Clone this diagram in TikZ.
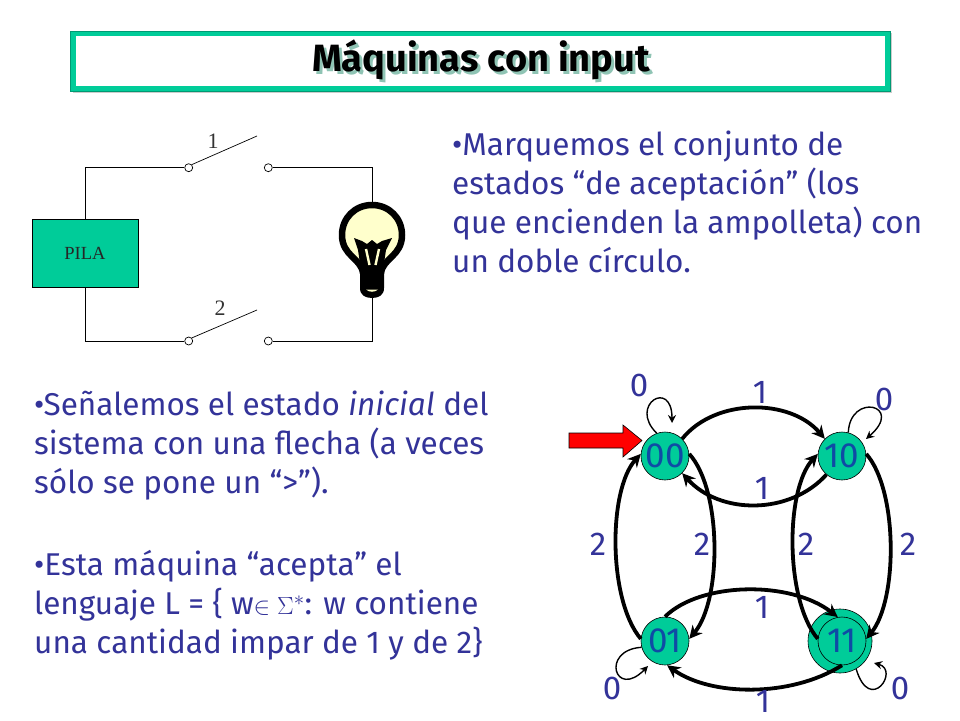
\documentclass[tikz,border=0pt]{standalone}
\usepackage{fontspec}
\setmainfont{Fira Sans}
\usetikzlibrary{arrows.meta}
\definecolor{txtblue}{HTML}{333399}
\definecolor{statetxt}{HTML}{0F4BA5}
\definecolor{teal}{HTML}{00CC99}
\definecolor{tealdark}{HTML}{009973}
\definecolor{shadowc}{HTML}{8FC4B4}
\definecolor{cream}{HTML}{FFFFCC}
\tikzset{
  x=1pt,y=-1pt,
  statenode/.style={circle,draw=black,line width=0.6pt,fill=teal,minimum size=48pt,inner sep=0pt,text=statetxt,font=\fontsize{35}{35}\selectfont},
  bigedge/.style={line width=3.8pt,-{Stealth[length=13pt,width=13pt]}},
  loopedge/.style={line width=1.4pt,-{Stealth[length=8pt,width=8pt]}},
  edgelabel/.style={text=txtblue,font=\fontsize{33}{33}\selectfont,inner sep=0pt},
  para/.style={text=txtblue,anchor=north west,align=left,inner sep=0pt,font=\fontsize{31.5}{39}\selectfont},
  wire/.style={line width=0.9pt},
  terminal/.style={circle,draw=black,line width=0.7pt,fill=white,minimum size=8pt,inner sep=0pt},
  circlabel/.style={text=black!80,inner sep=0pt},
}
\begin{document}
\begin{tikzpicture}
\useasboundingbox (0,0) rectangle (960,720);
\fill[white] (0,0) rectangle (960,720);
% title
\fill[black!20] (73,33) rectangle (892,93);
\draw[teal,line width=5.5pt,fill=white] (73.5,33.5) rectangle (888,88.5);
\draw[tealdark,line width=0.7pt] (70.5,31) rectangle (890.5,91);
\node[text=shadowc,inner sep=0pt,font=\fontsize{38}{38}\selectfont\bfseries] at (484,63) {Máquinas con input};
\node (title) [text=black,inner sep=0pt,font=\fontsize{38}{38}\selectfont\bfseries] at (481,60) {Máquinas con input};
% circuit
\node (pila) [draw=black,line width=0.9pt,fill=teal,minimum width=106pt,minimum height=68pt,inner sep=0pt,font=\fontsize{18.5}{18.5}\selectfont\fontspec{Liberation Serif},text=black!85] at (85,253) {PILA};
\node (t1) [terminal] at (188.7,167.7) {};
\node (t2) [terminal] at (268.3,167.7) {};
\node (t3) [terminal] at (188.7,341) {};
\node (t4) [terminal] at (268.3,341) {};
\coordinate (bulbtop) at (372,205);
\coordinate (bulbbot) at (372,296);
\coordinate (arm1) at (257,136);
\coordinate (arm2) at (257,310);
\draw[wire] (pila.north) |- (t1.west);
\draw[wire] (pila.south) |- (t3.west);
\draw[wire] (t2.east) -| (bulbtop);
\draw[wire] (t4.east) -| (bulbbot);
\draw[wire,line width=0.7pt] (t1.north east) -- (arm1);
\draw[wire,line width=0.7pt] (t3.north east) -- (arm2);
\node (l1) [circlabel,font=\fontsize{22}{22}\selectfont\fontspec{Liberation Serif}] at (213,141) {1};
\node (l2) [circlabel,font=\fontsize{22}{22}\selectfont\fontspec{Liberation Serif}] at (220,308) {2};
% bulb
\draw[line width=6.5pt,fill=cream,line join=round] (363,273) .. controls (361,258) and (342,256) .. (342,235) .. controls (342,218) and (355,205) .. (372,205) .. controls (389,205) and (402,218) .. (402,235) .. controls (402,256) and (383,258) .. (381,273) -- cycle;
\fill[black] (360,270) -- (384,270) -- (384,288) .. controls (384,295) and (379,298) .. (372,298) .. controls (365,298) and (360,295) .. (360,288) -- cycle;
\fill[cream] (366,289.5) .. controls (369,292.5) and (375,292.5) .. (378,289.5) -- cycle;
\fill[black] (354,238) -- (362,241) -- (367,244) -- (372,240) -- (377,244) -- (382,241) -- (392,238) -- (386,250) -- (383,270) -- (361,270) -- (358,250) -- cycle;
\draw[cream,line width=2.4pt] (366,249) -- (369.5,265);
\draw[cream,line width=2.4pt] (379,249) -- (375.5,265);
% paragraphs
\node (p1) [para] at (452,131) {•Marquemos el conjunto de\\estados “de aceptación” (los\\que encienden la ampolleta) con\\un doble círculo.};
\node (p2) [para] at (34,391) {•Señalemos el estado \emph{inicial} del\\sistema con una flecha (a veces\\sólo se pone un “>”).};
\node (p3) [para] at (34,550) {•Esta máquina “acepta” el\\lenguaje L = \{ w$\in\Sigma^{*}$: w contiene\\una cantidad impar de 1 y de 2\}};
% state machine
\node (outer11) [circle,draw=black,line width=0.6pt,fill=teal,minimum size=64pt,inner sep=0pt] at (840,641) {};
\node (n00) [statenode] at (665,456) {00};
\node (n10) [statenode] at (842,456) {10};
\node (n01) [statenode] at (665,641) {01};
\node (n11) [statenode] at (842,641) {11};
\draw[bigedge] (n00.45) .. controls (715,398) and (790,398) .. (n10.135);
\draw[bigedge] (n10.-130) .. controls (790,515) and (720,515) .. (n00.-45);
\draw[bigedge] (n00.5) .. controls (722,490) and (722,600) .. (n01.5);
\draw[bigedge] (n01.175) .. controls (608,600) and (608,490) .. (n00.175);
\draw[bigedge] (n10.5) .. controls (898,490) and (898,600) .. (n11.5);
\draw[bigedge] (n11.175) .. controls (785,600) and (785,490) .. (n10.175);
\draw[bigedge] (n01.90) .. controls (700,582) and (790,580) .. (n11.100);
\draw[bigedge] (n11.-90) .. controls (790,698) and (710,696) .. (n01.-85);
\coordinate (e00) at (672,423);
\coordinate (e10) at (866,439);
\coordinate (e01) at (648,666);
\coordinate (e11) at (874,663);
\draw[loopedge] (n00.110) .. controls (628,405) and (672,378) .. (e00);
\draw[loopedge] (n10.75) .. controls (850,392) and (905,405) .. (e10);
\draw[loopedge] (n01.195) .. controls (600,650) and (615,700) .. (e01);
\draw[loopedge] (outer11.-60) .. controls (870,715) and (900,670) .. (e11);
% red arrow
\coordinate (redtip) at (642,440.5);
\draw[line width=0.6pt,fill=red] (569,433) -- (623,433) -- (623,425) -- (redtip) -- (623,457) -- (623,448) -- (569,448) -- cycle;
% labels
\node (a1) [edgelabel] at (639,385) {0};
\node (a2) [edgelabel] at (760,392) {1};
\node (a3) [edgelabel] at (884,399) {0};
\node (a4) [edgelabel] at (762,488) {1};
\node (a5) [edgelabel] at (598,544) {2};
\node (a6) [edgelabel] at (702,544) {2};
\node (a7) [edgelabel] at (806,544) {2};
\node (a8) [edgelabel] at (908,544) {2};
\node (a9) [edgelabel] at (762,607) {1};
\node (a10) [edgelabel] at (612,688) {0};
\node (a11) [edgelabel] at (900,688) {0};
\node (a12) [edgelabel] at (763,701) {1};
\end{tikzpicture}
\end{document}
